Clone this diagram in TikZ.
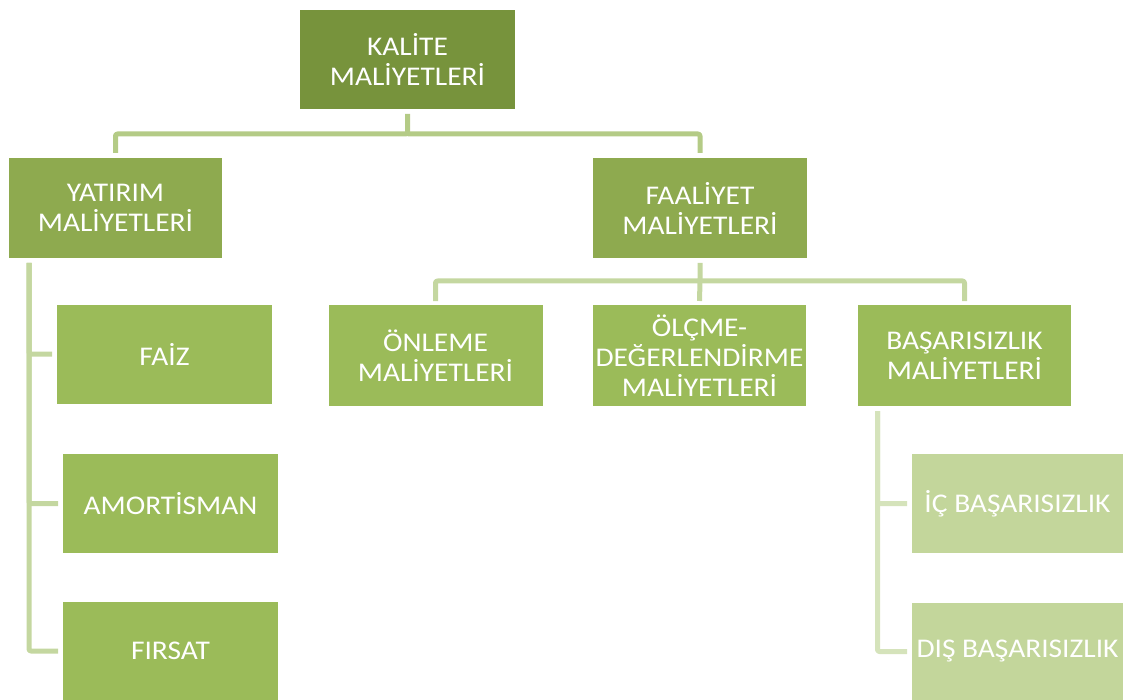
\documentclass[tikz,border=0pt]{standalone}
\usepackage{fontspec}
\setmainfont{Carlito}[FakeStretch=1.09]
\usetikzlibrary{calc}
\definecolor{cTop}{HTML}{77933C}
\definecolor{cMid}{HTML}{8EAA4F}
\definecolor{cLow}{HTML}{9BBB59}
\definecolor{cPale}{HTML}{C3D69B}
\definecolor{lA}{HTML}{B4CB86}
\definecolor{lB}{HTML}{C4D7A0}
\definecolor{lC}{HTML}{D5E3BB}
\tikzset{
  box/.style={rectangle, inner sep=0pt, outer sep=0pt, text=white, align=center,
    font=\fontsize{27}{30}\selectfont},
  conn/.style={line width=5pt, rounded corners=2pt, line cap=butt, line join=round},
}
\begin{document}
\begin{tikzpicture}[x=1pt,y=-1pt]
\useasboundingbox (0,0) rectangle (1123,700);
% boxes
\node[box, fill=cTop, minimum width=215pt, minimum height=99pt] (kal) at (407.5,59.5) {KALİTE\\MALİYETLERİ};
\node[box, fill=cMid, minimum width=213pt, minimum height=100pt] (yat) at (115.5,208) {YATIRIM\\MALİYETLERİ};
\node[box, fill=cMid, minimum width=214pt, minimum height=100pt] (faal) at (700,208) {FAALİYET\\MALİYETLERİ};
\node[box, fill=cLow, minimum width=214pt, minimum height=101pt] (onl) at (435.5,355.5) {ÖNLEME\\MALİYETLERİ};
\node[box, fill=cLow, minimum width=213pt, minimum height=101pt] (olc) at (699.5,355.5) {ÖLÇME-\\DEĞERLENDİRME\\MALİYETLERİ};
\node[box, fill=cLow, minimum width=213pt, minimum height=101pt] (bas) at (964.5,355.5) {BAŞARISIZLIK\\MALİYETLERİ};
\node[box, fill=cLow, minimum width=215pt, minimum height=99pt] (faiz) at (164.5,354) {FAİZ};
\node[box, fill=cLow, minimum width=215pt, minimum height=99pt] (amort) at (170.5,503.5) {AMORTİSMAN};
\node[box, fill=cLow, minimum width=215pt, minimum height=98pt] (firsat) at (170.5,651) {FIRSAT};
\node[box, fill=cPale, minimum width=211pt, minimum height=99pt] (ic) at (1017.5,503.5) {İÇ BAŞARISIZLIK};
\node[box, fill=cPale, minimum width=211pt, minimum height=97pt] (dis) at (1017.5,651.5) {DIŞ BAŞARISIZLIK};
% level 1 connectors
\coordinate (k1) at (407.5,134);
\draw[conn, lA] ([yshift=-5pt]kal.south) -- (k1) -| ([yshift=5pt]yat.north);
\draw[conn, lA] (k1) -| ([yshift=5pt]faal.north);
% level 2 connectors
\coordinate (f1) at (700,281);
\draw[conn, lB] ([yshift=-5pt]faal.south) -- (f1) -| ([yshift=4pt]onl.north);
\draw[conn, lB] (f1) -| ([yshift=4pt]bas.north);
\draw[conn, lB] (f1) -- ([yshift=4pt]olc.north);
% yatirim children
\coordinate (y1) at (29,263);
\draw[conn, lB] (y1) |- ([xshift=-5pt]faiz.west);
\draw[conn, lB] (y1) |- ([xshift=-5pt]amort.west);
\draw[conn, lB] (y1) |- ([xshift=-5pt]firsat.west);
% basarisizlik children
\coordinate (b1) at (877.5,411);
\draw[conn, lC] (b1) |- ([xshift=-5pt]ic.west);
\draw[conn, lC] (b1) |- ([xshift=-5pt]dis.west);
\end{tikzpicture}
\end{document}
